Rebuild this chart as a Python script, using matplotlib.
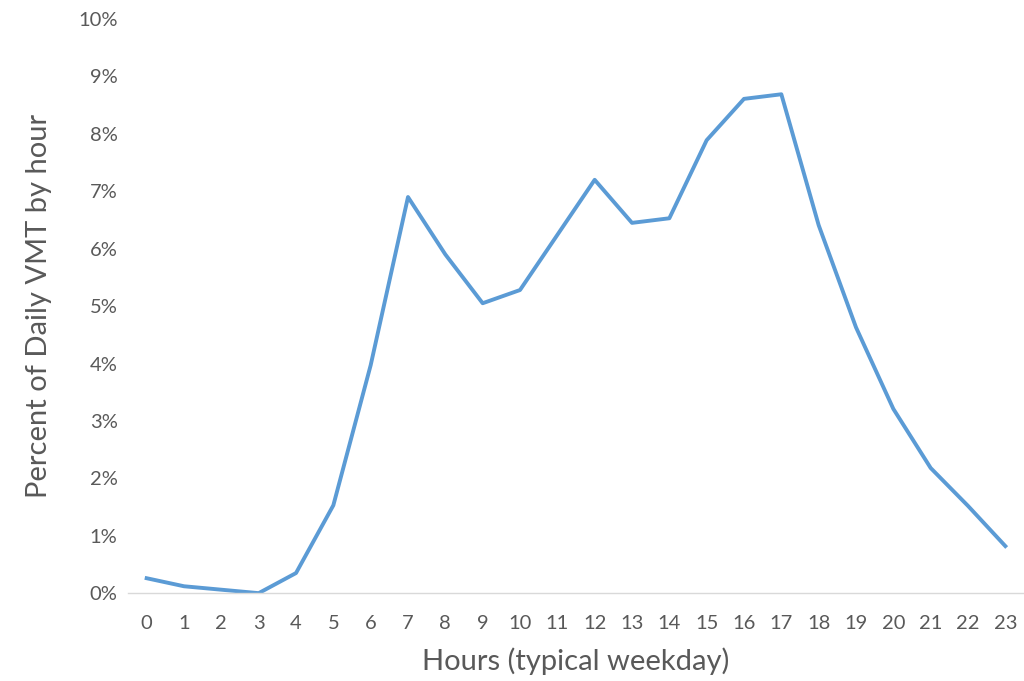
import matplotlib.pyplot as plt
from matplotlib.ticker import FuncFormatter

plt.rcParams['font.family'] = ['Lato', 'DejaVu Sans']

hours = list(range(24))
vmt_share = [0.26, 0.12, 0.06, 0.00, 0.35, 1.53, 3.97, 6.90, 5.90, 5.05, 5.28, 6.24,
             7.20, 6.45, 6.53, 7.89, 8.61, 8.69, 6.41, 4.63, 3.21, 2.18, 1.52, 0.82]

fig = plt.figure(figsize=(10.24, 6.81), dpi=100)
ax = fig.add_axes([0.125, 0.129, 0.875, 0.843])

ax.plot(hours, vmt_share, color='#5B9BD5', linewidth=2.8, solid_joinstyle='round')

ax.set_xlim(-0.5, 23.5)
ax.set_ylim(0, 10)
ax.set_xticks(hours)
ax.set_yticks(range(11))
ax.yaxis.set_major_formatter(FuncFormatter(lambda v, p: f"{int(v)}%"))
ax.tick_params(axis='both', length=0, labelsize=14.5, colors='#595959')
ax.tick_params(axis='x', pad=16)
ax.tick_params(axis='y', pad=7.5)

for side in ['top', 'right', 'left']:
    ax.spines[side].set_visible(False)
ax.spines['bottom'].set_color('#D9D9D9')
ax.spines['bottom'].set_linewidth(1)

ax.set_xlabel("Hours (typical weekday)", fontsize=21, color='#595959', labelpad=11)
ax.set_ylabel("Percent of Daily VMT by hour", fontsize=21, color='#595959', labelpad=19)

fig.savefig("out.png", dpi=100)
